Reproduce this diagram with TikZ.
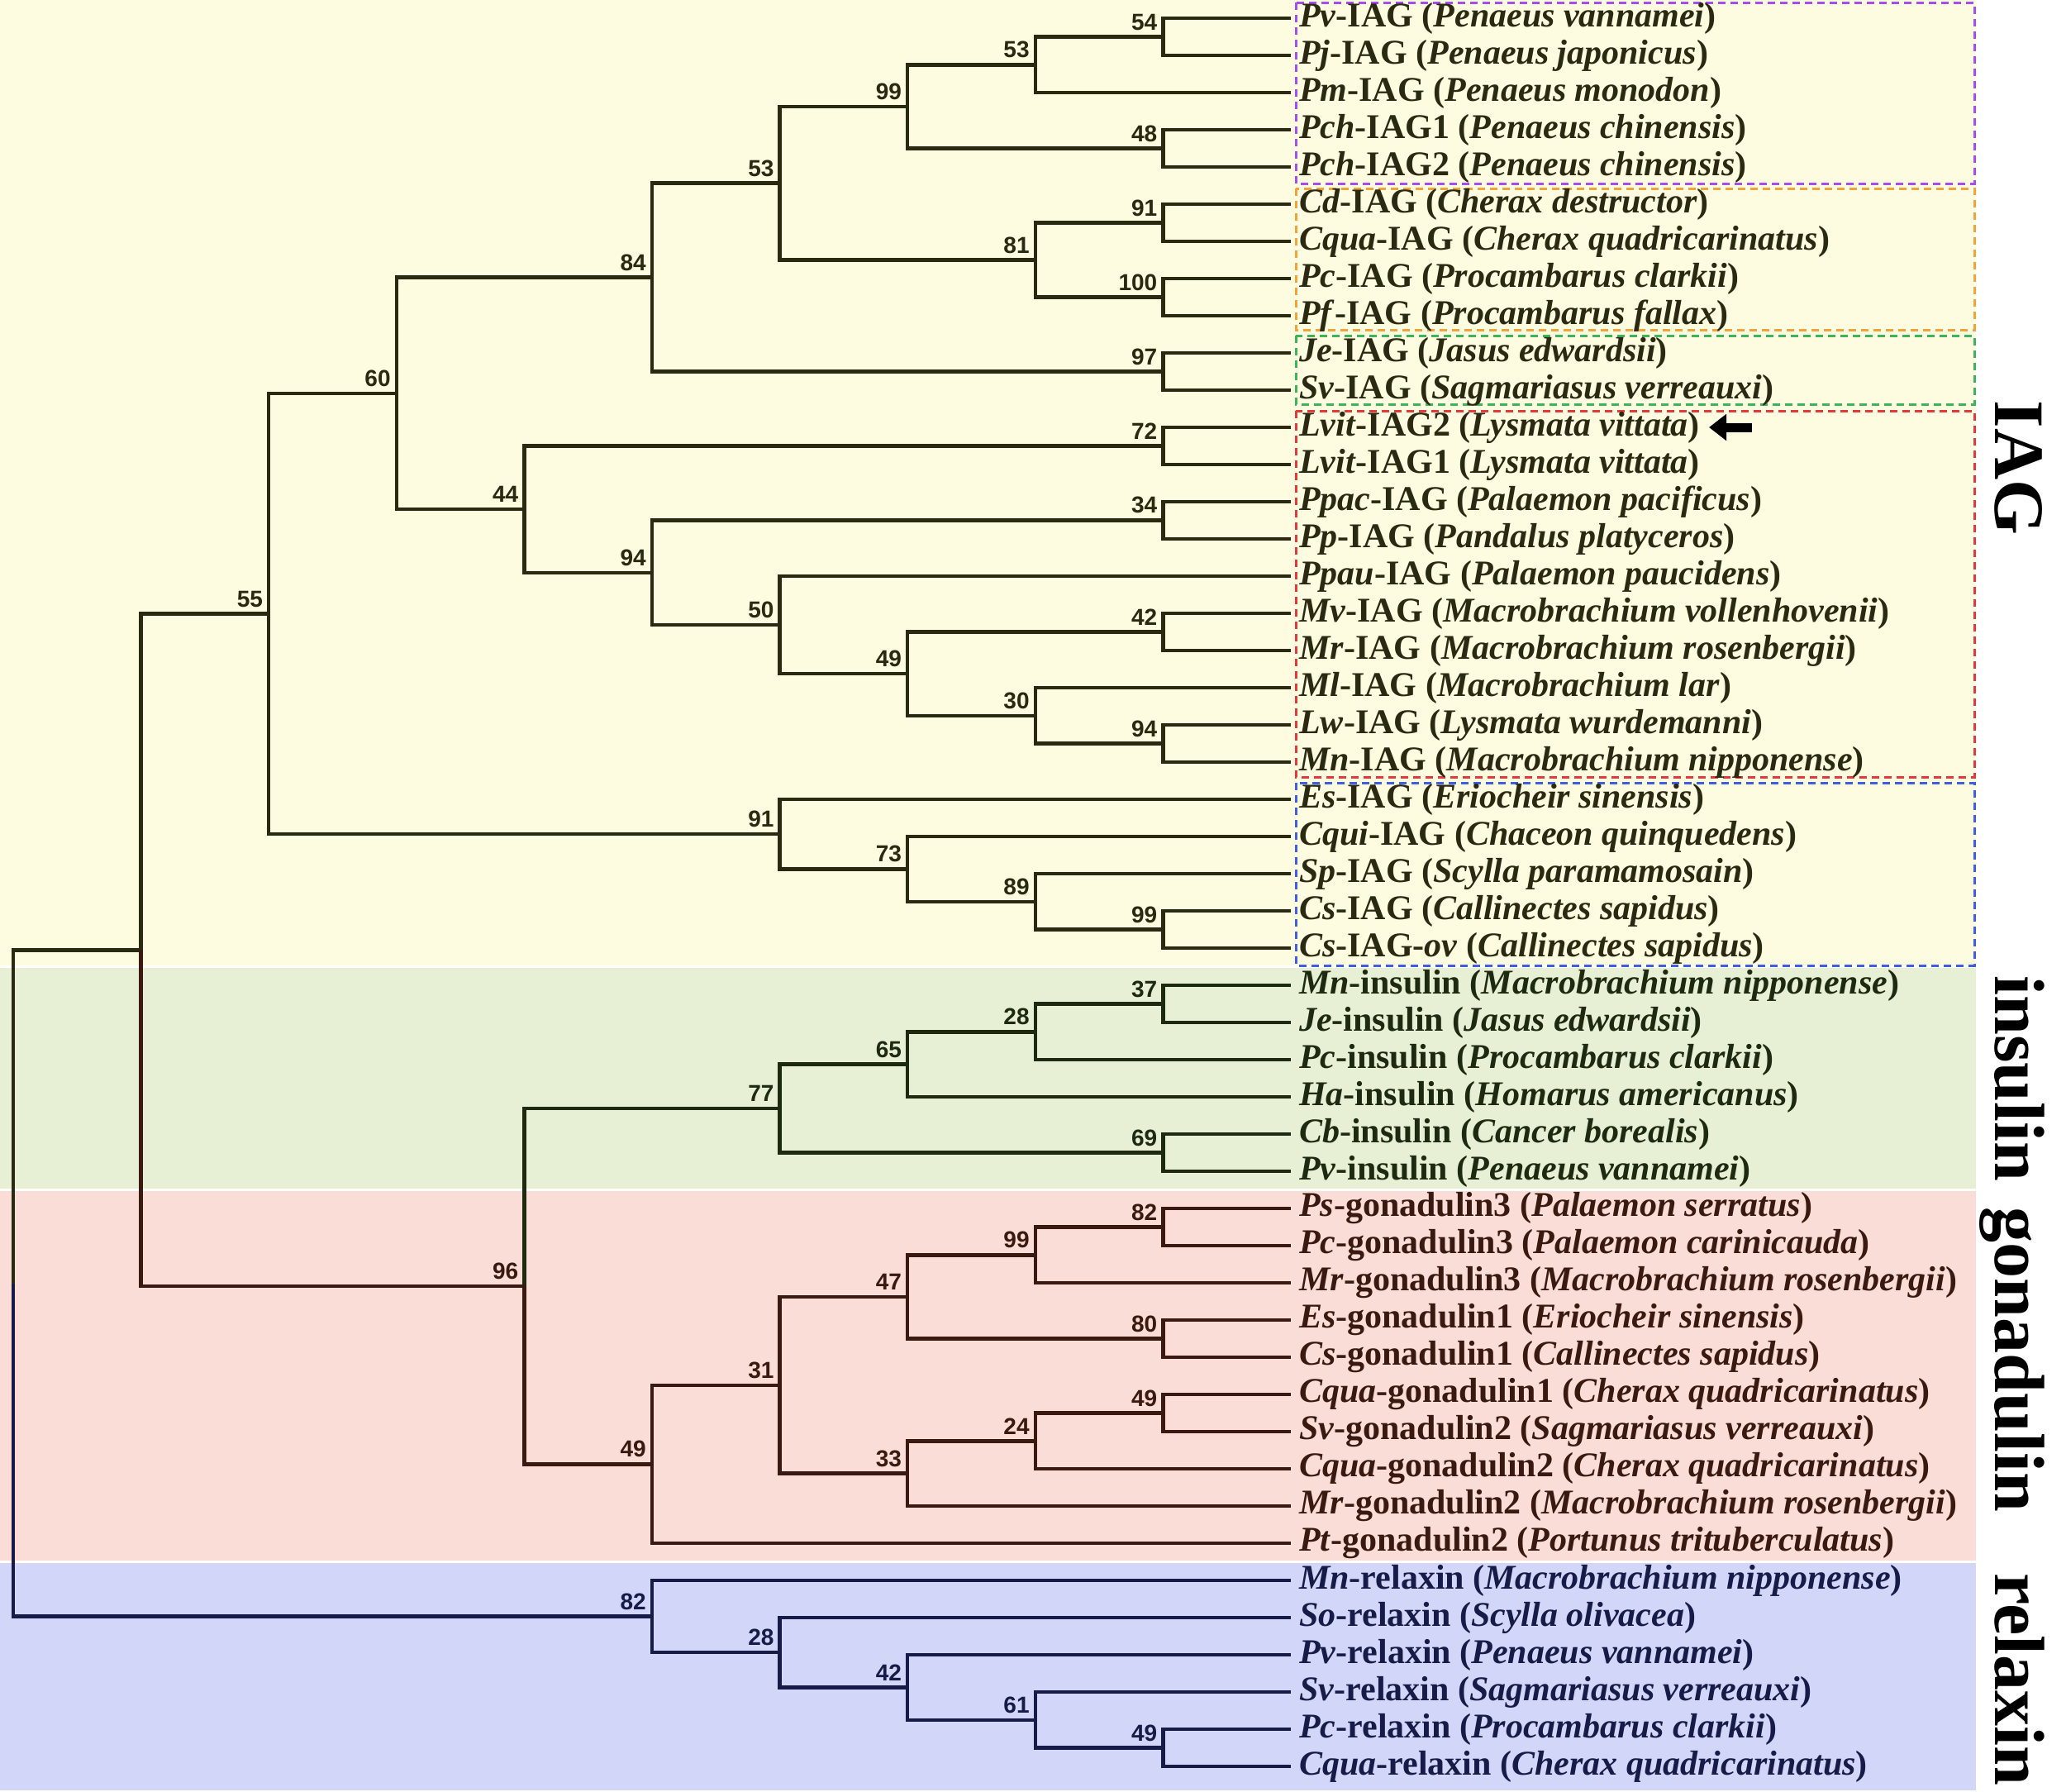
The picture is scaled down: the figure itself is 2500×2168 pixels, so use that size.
\documentclass[tikz,border=0pt]{standalone}
\usepackage{fontspec}
\setmainfont{Liberation Serif}
\newfontfamily\bootfont{Liberation Sans}
\usetikzlibrary{arrows.meta}

\definecolor{iagbg}{HTML}{FDFCE1}
\definecolor{insbg}{HTML}{E7F0D5}
\definecolor{gonbg}{HTML}{FADDD6}
\definecolor{relbg}{HTML}{D2D6F8}
\definecolor{iagln}{HTML}{2A2A12}
\definecolor{insln}{HTML}{1E2A10}
\definecolor{gonln}{HTML}{3A1A10}
\definecolor{relln}{HTML}{161B48}
\definecolor{boxpurple}{HTML}{A64DEB}
\definecolor{boxorange}{HTML}{F2A33A}
\definecolor{boxgreen}{HTML}{3DB35A}
\definecolor{boxred}{HTML}{E03A3A}
\definecolor{boxblue}{HTML}{3F5FE0}

\newcommand{\gene}[3]{\textit{#1}-#2 (\textit{#3})}

\tikzset{
  branch/.style={line width=4.5pt, line join=miter},
  leaf/.style={anchor=west, inner xsep=10pt, inner ysep=0pt,
    font=\fontsize{42}{46}\selectfont\bfseries},
  boot/.style={anchor=south east, inner sep=0pt, xshift=-7pt, yshift=8pt,
    font=\bootfont\fontsize{28}{30}\selectfont\bfseries},
  cladebox/.style={line width=3pt, dash pattern=on 9pt off 6pt},
  family/.style={rotate=-90, anchor=base, font=\fontsize{86}{90}\selectfont\bfseries},
  pointer/.style={line width=11pt, -{Triangle[length=21pt,width=31pt]}}
}

\begin{document}
\begin{tikzpicture}[x=1pt, y=-1pt]
\useasboundingbox (0,0) rectangle (2500,2168);

% family backgrounds
\fill[iagbg] (0,0) rectangle (2391,1168);
\fill[insbg] (0,1171) rectangle (2391,1438);
\fill[gonbg] (0,1441) rectangle (2391,1888);
\fill[relbg] (0,1891) rectangle (2391,2166);

% clade boxes
\draw[cladebox, boxpurple] (1568,3) rectangle (2389,222);
\draw[cladebox, boxorange] (1568,228) rectangle (2389,399);
\draw[cladebox, boxgreen] (1568,406) rectangle (2389,489);
\draw[cladebox, boxred] (1568,497) rectangle (2389,940);
\draw[cladebox, boxblue] (1568,947) rectangle (2389,1168);

% leaves
\foreach \ab/\gn/\sp [count=\i] in {Pv/IAG/Penaeus vannamei, Pj/IAG/Penaeus japonicus,
  Pm/IAG/Penaeus monodon, Pch/IAG1/Penaeus chinensis, Pch/IAG2/Penaeus chinensis,
  Cd/IAG/Cherax destructor, Cqua/IAG/Cherax quadricarinatus, Pc/IAG/Procambarus clarkii,
  Pf/IAG/Procambarus fallax, Je/IAG/Jasus edwardsii, Sv/IAG/Sagmariasus verreauxi,
  Lvit/IAG2/Lysmata vittata, Lvit/IAG1/Lysmata vittata, Ppac/IAG/Palaemon pacificus,
  Pp/IAG/Pandalus platyceros, Ppau/IAG/Palaemon paucidens,
  Mv/IAG/Macrobrachium vollenhovenii, Mr/IAG/Macrobrachium rosenbergii,
  Ml/IAG/Macrobrachium lar, Lw/IAG/Lysmata wurdemanni, Mn/IAG/Macrobrachium nipponense,
  Es/IAG/Eriocheir sinensis, Cqui/IAG/Chaceon quinquedens, Sp/IAG/Scylla paramamosain,
  Cs/IAG/Callinectes sapidus}
  \node[leaf, text=iagln] (\ab-\gn) at (1562,{45*\i-23}) {\gene{\ab}{\gn}{\sp}};
\node[leaf, text=iagln] (Cs-IAG-ov) at (1562,1147) {\gene{Cs}{IAG-\textit{ov}}{Callinectes sapidus}};
\foreach \ab/\gn/\sp [count=\i from 27] in {Mn/insulin/Macrobrachium nipponense,
  Je/insulin/Jasus edwardsii, Pc/insulin/Procambarus clarkii,
  Ha/insulin/Homarus americanus, Cb/insulin/Cancer borealis, Pv/insulin/Penaeus vannamei}
  \node[leaf, text=insln] (\ab-\gn) at (1562,{45*\i-23}) {\gene{\ab}{\gn}{\sp}};
\foreach \ab/\gn/\sp [count=\i from 33] in {Ps/gonadulin3/Palaemon serratus,
  Pc/gonadulin3/Palaemon carinicauda, Mr/gonadulin3/Macrobrachium rosenbergii,
  Es/gonadulin1/Eriocheir sinensis, Cs/gonadulin1/Callinectes sapidus,
  Cqua/gonadulin1/Cherax quadricarinatus, Sv/gonadulin2/Sagmariasus verreauxi,
  Cqua/gonadulin2/Cherax quadricarinatus, Mr/gonadulin2/Macrobrachium rosenbergii,
  Pt/gonadulin2/Portunus trituberculatus}
  \node[leaf, text=gonln] (\ab-\gn) at (1562,{45*\i-23}) {\gene{\ab}{\gn}{\sp}};
\foreach \ab/\gn/\sp [count=\i from 43] in {Mn/relaxin/Macrobrachium nipponense,
  So/relaxin/Scylla olivacea, Pv/relaxin/Penaeus vannamei,
  Sv/relaxin/Sagmariasus verreauxi, Pc/relaxin/Procambarus clarkii,
  Cqua/relaxin/Cherax quadricarinatus}
  \node[leaf, text=relln] (\ab-\gn) at (1562,{45*\i-23}) {\gene{\ab}{\gn}{\sp}};

% internal nodes
\coordinate (i54) at (1407.4,44.5);
\coordinate (i53a) at (1252.8,78.25);
\coordinate (i48) at (1407.4,179.5);
\coordinate (i99a) at (1098.2,128.9);
\coordinate (i91a) at (1407.4,269.5);
\coordinate (i100) at (1407.4,359.5);
\coordinate (i81) at (1252.8,314.5);
\coordinate (i53b) at (943.6,221.7);
\coordinate (i97) at (1407.4,449.5);
\coordinate (i84) at (789,335.6);
\coordinate (i72) at (1407.4,539.5);
\coordinate (i34) at (1407.4,629.5);
\coordinate (i42) at (1407.4,764.5);
\coordinate (i94a) at (1407.4,899.5);
\coordinate (i30) at (1252.8,865.75);
\coordinate (i49) at (1098.2,815.1);
\coordinate (i50) at (943.6,756.1);
\coordinate (i94b) at (789,692.8);
\coordinate (i44) at (634.4,616.1);
\coordinate (i60) at (479.8,475.9);
\coordinate (i99b) at (1407.4,1124.5);
\coordinate (i89) at (1252.8,1090.75);
\coordinate (i73) at (1098.2,1051.4);
\coordinate (i91b) at (943.6,1009.2);
\coordinate (i55) at (325.2,742.5);
\coordinate (s37) at (1407.4,1214.5);
\coordinate (s28) at (1252.8,1248.25);
\coordinate (s65) at (1098.2,1287.6);
\coordinate (s69) at (1407.4,1394.5);
\coordinate (s77) at (943.6,1341.1);
\coordinate (g82) at (1407.4,1484.5);
\coordinate (g99) at (1252.8,1518.25);
\coordinate (g80) at (1407.4,1619.5);
\coordinate (g47) at (1098.2,1568.9);
\coordinate (g49a) at (1407.4,1709.5);
\coordinate (g24) at (1252.8,1743.25);
\coordinate (g33) at (1098.2,1782.6);
\coordinate (g31) at (943.6,1675.75);
\coordinate (g49b) at (789,1771.4);
\coordinate (sg96) at (634.4,1556.2);
\coordinate (hub) at (170.6,1149.4);
\coordinate (r49) at (1407.4,2114.5);
\coordinate (r61) at (1252.8,2080.75);
\coordinate (r42) at (1098.2,2041.4);
\coordinate (r28) at (943.6,1999.2);
\coordinate (r82) at (789,1955.6);
\coordinate (root) at (16,1552.5);

% branches
\foreach \p/\c in {i54/Pv-IAG, i54/Pj-IAG, i53a/i54, i53a/Pm-IAG, i48/Pch-IAG1, i48/Pch-IAG2,
  i99a/i53a, i99a/i48, i91a/Cd-IAG, i91a/Cqua-IAG, i100/Pc-IAG, i100/Pf-IAG, i81/i91a,
  i81/i100, i53b/i99a, i53b/i81, i97/Je-IAG, i97/Sv-IAG, i84/i53b, i84/i97,
  i72/Lvit-IAG2, i72/Lvit-IAG1, i34/Ppac-IAG, i34/Pp-IAG, i42/Mv-IAG, i42/Mr-IAG,
  i94a/Lw-IAG, i94a/Mn-IAG, i30/Ml-IAG, i30/i94a, i49/i42, i49/i30, i50/Ppau-IAG, i50/i49,
  i94b/i34, i94b/i50, i44/i72, i44/i94b, i60/i84, i60/i44, i99b/Cs-IAG, i99b/Cs-IAG-ov,
  i89/Sp-IAG, i89/i99b, i73/Cqui-IAG, i73/i89, i91b/Es-IAG, i91b/i73, i55/i60, i55/i91b,
  hub/i55, root/hub}
  \draw[branch, iagln] (\p) |- (\c);
\foreach \p/\c in {s37/Mn-insulin, s37/Je-insulin, s28/s37, s28/Pc-insulin, s65/s28,
  s65/Ha-insulin, s69/Cb-insulin, s69/Pv-insulin, s77/s65, s77/s69, sg96/s77}
  \draw[branch, insln] (\p) |- (\c);
\foreach \p/\c in {g82/Ps-gonadulin3, g82/Pc-gonadulin3, g99/g82, g99/Mr-gonadulin3,
  g80/Es-gonadulin1, g80/Cs-gonadulin1, g47/g99, g47/g80, g49a/Cqua-gonadulin1,
  g49a/Sv-gonadulin2, g24/g49a, g24/Cqua-gonadulin2, g33/g24, g33/Mr-gonadulin2,
  g31/g47, g31/g33, g49b/g31, g49b/Pt-gonadulin2, sg96/g49b, hub/sg96}
  \draw[branch, gonln] (\p) |- (\c);
\foreach \p/\c in {r49/Pc-relaxin, r49/Cqua-relaxin, r61/Sv-relaxin, r61/r49,
  r42/Pv-relaxin, r42/r61, r28/So-relaxin, r28/r42, r82/Mn-relaxin, r82/r28, root/r82}
  \draw[branch, relln] (\p) |- (\c);

% bootstrap values
\foreach \n/\v in {i54/54, i53a/53, i48/48, i99a/99, i91a/91, i100/100, i81/81, i53b/53,
  i97/97, i84/84, i72/72, i34/34, i42/42, i94a/94, i30/30, i49/49, i50/50, i94b/94,
  i44/44, i60/60, i99b/99, i89/89, i73/73, i91b/91, i55/55}
  \node[boot, text=iagln] (b-\n) at (\n) {\v};
\foreach \n/\v in {s37/37, s28/28, s65/65, s69/69, s77/77}
  \node[boot, text=insln] (b-\n) at (\n) {\v};
\foreach \n/\v in {g82/82, g99/99, g80/80, g47/47, g49a/49, g24/24, g33/33, g31/31,
  g49b/49, sg96/96}
  \node[boot, text=gonln] (b-\n) at (\n) {\v};
\foreach \n/\v in {r49/49, r61/61, r42/42, r28/28, r82/82}
  \node[boot, text=relln] (b-\n) at (\n) {\v};

% pointer to the new gene
\coordinate (ptr-tail) at (2120,517);
\coordinate (ptr-head) at (2068,517);
\draw[pointer] (ptr-tail) -- (ptr-head);

% family names
\node[family] (fam-iag) at (2414,566) {IAG};
\node[family] (fam-ins) at (2414,1305) {insulin};
\node[family] (fam-gon) at (2414,1645) {gonadulin};
\node[family] (fam-rel) at (2414,2032) {relaxin};
\end{tikzpicture}
\end{document}
